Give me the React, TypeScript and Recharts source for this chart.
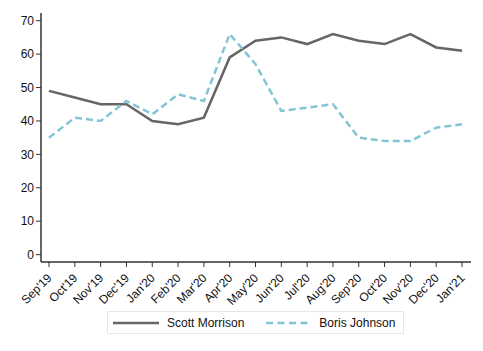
import { LineChart, Line, XAxis, YAxis, Legend } from 'recharts';

// months along the x axis
const months = [
    "Sep'19", "Oct'19", "Nov'19", "Dec'19", "Jan'20", "Feb'20", "Mar'20", "Apr'20", "May'20",
    "Jun'20", "Jul'20", "Aug'20", "Sep'20", "Oct'20", "Nov'20", "Dec'20", "Jan'21",
];
const morrison = [49, 47, 45, 45, 40, 39, 41, 59, 64, 65, 63, 66, 64, 63, 66, 62, 61];
const johnson = [35, 41, 40, 46, 42, 48, 46, 66, 57, 43, 44, 45, 35, 34, 34, 38, 39];
const yTicks = [0, 10, 20, 30, 40, 50, 60, 70];

const data = months.map((m, i) => ({ month: m, morrison: morrison[i], johnson: johnson[i] }));

const GRAY = '#666666';
const BLUE = '#83c5d5';
const AXIS = '#333333';
const FONT = '"Liberation Sans", Arial, sans-serif';

const MonthTick = (props: any) => {
    const { x, y, payload } = props;
    return (
        <g transform={`translate(${x - 5},${y + 4})`}>
            <text x={2} y={0} dy={10} textAnchor="end" transform="rotate(-45)" fontSize={12} fill="#111" fontFamily={FONT}>
                {payload.value}
            </text>
        </g>
    );
};

const LegendBox = () => (
    <div
        style={{
            border: '1px solid #e6e6e6',
            height: 23,
            boxSizing: 'border-box',
            display: 'flex',
            alignItems: 'center',
            fontFamily: FONT,
            fontSize: 12,
            color: '#111',
        }}
    >
        <svg width={46} height={6} style={{ marginLeft: 5 }}>
            <line x1={0} y1={3} x2={46} y2={3} stroke={GRAY} strokeWidth={2.5} />
        </svg>
        <span style={{ marginLeft: 8 }}>Scott Morrison</span>
        <svg width={46} height={6} style={{ marginLeft: 22 }}>
            <line x1={0} y1={3} x2={46} y2={3} stroke={BLUE} strokeWidth={2.5} strokeDasharray="7 4.5" />
        </svg>
        <span style={{ marginLeft: 7 }}>Boris Johnson</span>
    </div>
);

const App = () => {
    return (
        <div style={{ position: 'absolute', left: 0, top: 0, background: '#fff' }}>
            <LineChart width={483} height={351} data={data} margin={{ top: 13, right: 12, left: 0, bottom: 0 }}>
                <XAxis
                    dataKey="month"
                    interval={0}
                    height={89}
                    tick={<MonthTick />}
                    tickSize={5}
                    padding={{ left: 8, right: 9 }}
                    stroke={AXIS}
                    axisLine={{ stroke: AXIS, strokeWidth: 1.5 }}
                    tickLine={{ stroke: AXIS }}
                />
                <YAxis
                    width={41}
                    domain={[-2.2, 72.3]}
                    ticks={yTicks}
                    interval={0}
                    tickSize={5}
                    allowDataOverflow
                    stroke={AXIS}
                    axisLine={{ stroke: AXIS, strokeWidth: 1.5 }}
                    tickLine={{ stroke: AXIS }}
                    tick={{ fontSize: 12, fill: '#111', fontFamily: FONT }}
                />
                <Legend
                    layout="horizontal"
                    verticalAlign="middle"
                    align="center"
                    content={<LegendBox />}
                    wrapperStyle={{ top: 311, left: 107, width: 297 }}
                />
                <Line
                    type="linear"
                    dataKey="morrison"
                    name="Scott Morrison"
                    stroke={GRAY}
                    strokeWidth={2.5}
                    dot={false}
                    isAnimationActive={false}
                />
                <Line
                    type="linear"
                    dataKey="johnson"
                    name="Boris Johnson"
                    stroke={BLUE}
                    strokeWidth={2.5}
                    strokeDasharray="7 4"
                    dot={false}
                    isAnimationActive={false}
                />
            </LineChart>
        </div>
    );
};

export default App;
